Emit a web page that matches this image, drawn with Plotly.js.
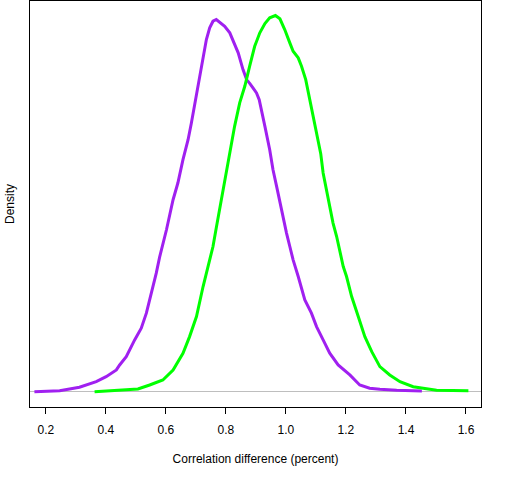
<!DOCTYPE html>
<html>
<head>
<meta charset="utf-8">
<script src="https://cdn.plot.ly/plotly-3.0.1.min.js"></script>
<style>html,body{margin:0;padding:0;background:#fff;}#chart{width:512px;height:480px;}</style>
</head>
<body>
<div id="chart"></div>
<script>
// Density estimates
var purpleX = [0.162,0.246,0.312,0.368,0.401,0.435,0.446,0.468,0.496,0.518,0.535,0.552,0.568,0.579,0.602,0.624,0.640,0.657,0.674,0.685,0.699,0.713,0.724,0.735,0.746,0.757,0.768,0.779,0.796,0.813,0.824,0.841,0.857,0.869,0.880,0.902,0.911,0.919,0.930,0.946,0.957,0.969,0.980,0.991,1.002,1.013,1.024,1.041,1.063,1.085,1.102,1.124,1.146,1.174,1.213,1.246,1.279,1.313,1.369,1.453];
var purpleY = [0.000,0.010,0.044,0.100,0.150,0.217,0.267,0.350,0.517,0.634,0.784,0.984,1.184,1.342,1.617,1.917,2.084,2.317,2.517,2.684,2.917,3.150,3.350,3.517,3.634,3.700,3.717,3.690,3.650,3.584,3.500,3.384,3.217,3.117,3.077,2.984,2.917,2.817,2.650,2.417,2.217,2.050,1.884,1.717,1.584,1.450,1.317,1.150,0.917,0.784,0.650,0.517,0.384,0.267,0.167,0.067,0.034,0.024,0.014,0.007];
var greenX = [0.3625,0.435,0.507,0.546,0.590,0.624,0.657,0.679,0.702,0.724,0.740,0.757,0.768,0.785,0.799,0.813,0.829,0.846,0.863,0.879,0.896,0.913,0.930,0.946,0.965,0.980,0.996,1.013,1.024,1.041,1.052,1.066,1.080,1.091,1.104,1.116,1.124,1.135,1.146,1.157,1.169,1.180,1.191,1.202,1.219,1.241,1.263,1.286,1.313,1.346,1.380,1.424,1.468,1.502,1.608];
var greenY = [0.000,0.017,0.027,0.067,0.117,0.217,0.384,0.550,0.750,1.050,1.250,1.450,1.637,1.917,2.150,2.387,2.650,2.884,3.050,3.250,3.450,3.584,3.677,3.734,3.757,3.724,3.617,3.484,3.400,3.334,3.250,3.117,2.917,2.750,2.550,2.377,2.184,2.017,1.850,1.684,1.550,1.384,1.250,1.150,0.950,0.750,0.550,0.400,0.250,0.167,0.100,0.050,0.027,0.014,0.010];
var xTicks = [0.2,0.4,0.6,0.8,1.0,1.2,1.4,1.6];
var xTickLabels = ["0.2","0.4","0.6","0.8","1.0","1.2","1.4","1.6"];

var traces = [
  {x: purpleX, y: purpleY, type: 'scatter', mode: 'lines', line: {color: '#A020F0', width: 3}, hoverinfo: 'none'},
  {x: greenX, y: greenY, type: 'scatter', mode: 'lines', line: {color: '#00FF00', width: 3}, hoverinfo: 'none'}
];

var layout = {
  width: 512, height: 480,
  margin: {l: 30, r: 31, t: 1, b: 73, pad: 0},
  paper_bgcolor: '#ffffff', plot_bgcolor: '#ffffff',
  showlegend: false,
  font: {family: 'Liberation Sans, Arial, sans-serif', size: 12, color: '#000'},
  xaxis: {
    range: [0.1473, 1.650],
    tickmode: 'array', tickvals: xTicks, ticktext: xTickLabels,
    ticks: 'outside', ticklen: 6, tickwidth: 1, tickcolor: '#000',
    ticklabelstandoff: 6,
    showline: true, linecolor: '#000', linewidth: 1, mirror: true,
    showgrid: false, zeroline: false,
    tickfont: {size: 12, color: '#000'},
    title: {text: 'Correlation difference (percent)', font: {size: 12, color: '#000'}, standoff: 18}
  },
  yaxis: {
    range: [-0.153, 3.902],
    showticklabels: false, ticks: '',
    showline: true, linecolor: '#000', linewidth: 1, mirror: true,
    showgrid: false,
    zeroline: true, zerolinecolor: '#BEBEBE', zerolinewidth: 1,
    title: {text: 'Density', font: {size: 12, color: '#000'}, standoff: 11}
  }
};

Plotly.newPlot('chart', traces, layout, {staticPlot: true, displayModeBar: false});
</script>
</body>
</html>
